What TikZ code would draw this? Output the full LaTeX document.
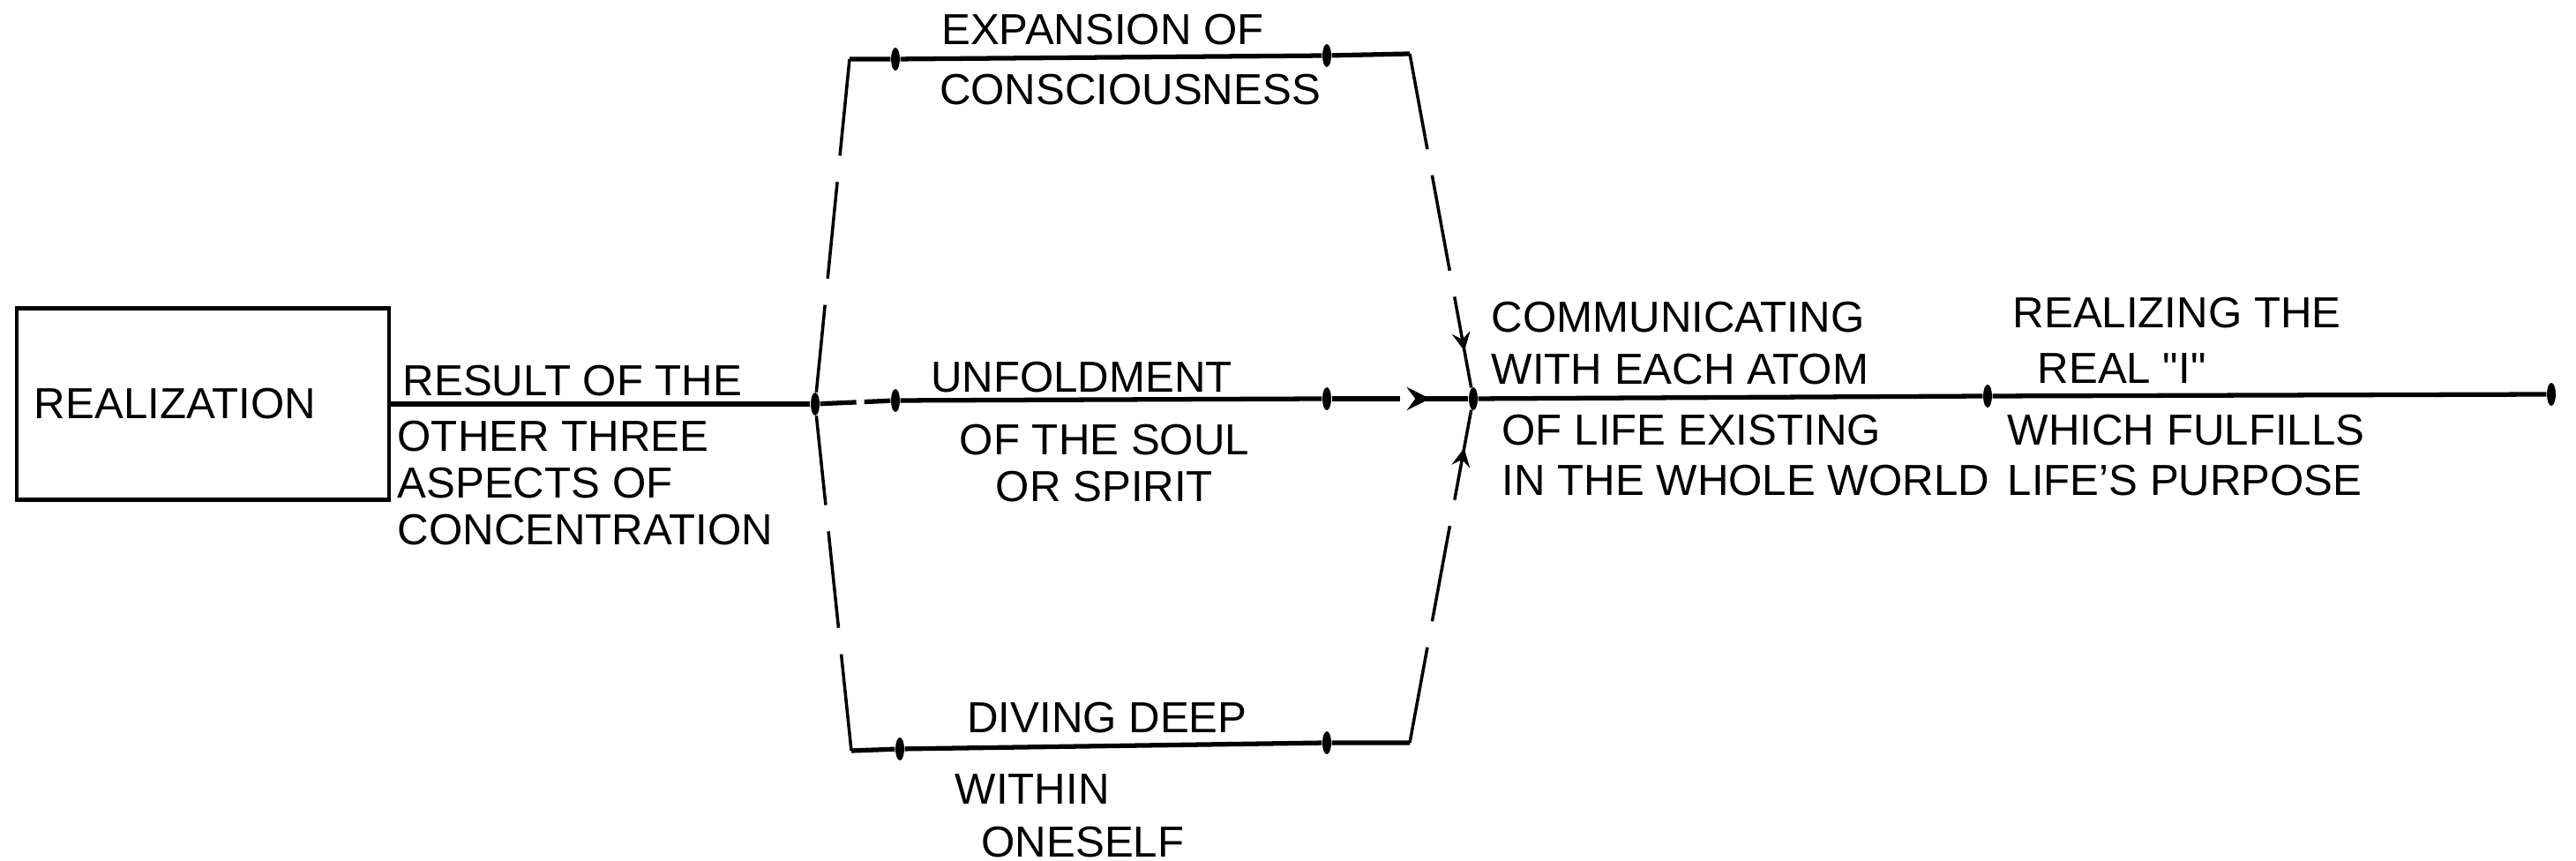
\documentclass[tikz,border=0pt]{standalone}
\usepackage{fontspec}
\setmainfont{Liberation Sans}
\usepackage{tikz}
\usetikzlibrary{shapes.geometric, arrows, positioning, decorations.markings}
\tikzstyle{concept} = [rectangle, minimum width=4.22cm, minimum height=2.17cm, text width=3.82cm, align=left, inner xsep=0.2cm, draw=black, line width=1.3pt, font=\fontsize{14}{16}\selectfont]
\tikzstyle{handtext} = [inner sep=0pt, font=\fontsize{14}{16}\selectfont]
\tikzstyle{knot} = [ellipse, fill=black, minimum width=0.1cm, minimum height=0.26cm, inner sep=0pt]
\tikzstyle{mainline} = [line width=1.5pt]
\tikzstyle{sideline} = [line width=1pt, dash pattern=on 1.1cm off 0.3cm]
\tikzset{flowmark/.style={postaction={decorate}, decoration={markings, mark=at position #1 with {\arrow[scale=1.3]{stealth}}}}}

\begin{document}
\begin{tikzpicture}
\useasboundingbox (0,0) rectangle (29.2,9.76);

\node (real) [concept] at (2.30,5.18) {REALIZATION};

% junctions and knots on the lines
\node (lj) [knot] at (9.24,5.18) {};
\node (m1) [knot] at (10.15,5.22) {};
\node (m2) [knot] at (15.04,5.24) {};
\node (rj) [knot] at (16.70,5.24) {};
\node (r1) [knot] at (22.53,5.27) {};
\node (r2) [knot] at (28.92,5.29) {};
\coordinate (tl) at (9.63,9.09);
\node (t1) [knot] at (10.15,9.09) {};
\node (t2) [knot] at (15.04,9.13) {};
\coordinate (tr) at (15.98,9.15);
\coordinate (bl) at (9.65,1.25);
\node (b1) [knot] at (10.20,1.27) {};
\node (b2) [knot] at (15.04,1.34) {};
\coordinate (br) at (15.98,1.34);

\draw [mainline] (real.east) -- (lj);
\draw [mainline, dash pattern=on 0.41cm off 0.09cm] (lj) -- (m1);
\draw [mainline] (m1) -- (m2);
\draw [mainline, dash pattern=on 0.77cm off 0.26cm, flowmark=0.72] (m2) -- (rj);
\draw [mainline] (rj) -- (r1) -- (r2);
\draw [mainline] (tl) -- (t1) -- (t2) -- (tr);
\draw [mainline] (bl) -- (b1) -- (b2) -- (br);
\draw [sideline] (tl) -- (lj);
\draw [sideline] (bl) -- (lj);
\draw [sideline, flowmark=0.89] (tr) -- (rj);
\draw [sideline, flowmark=0.885] (br) -- (rj);

% texts along the lines
\node (restop) [handtext, anchor=west] at (4.56,5.44) {RESULT OF THE};
\node (resbot) [handtext, anchor=west, align=left, font=\fontsize{14}{15}\selectfont] at (4.50,4.285) {OTHER THREE\\ASPECTS OF\\CONCENTRATION};
\node (exptop) [handtext] at (12.50,9.42) {EXPANSION OF};
\node (expbot) [handtext] at (12.81,8.74) {CONSCIOUSNESS};
\node (unftop) [handtext] at (12.26,5.48) {UNFOLDMENT};
\node (unfbot) [handtext, align=center, font=\fontsize{14}{15}\selectfont] at (12.52,4.51) {OF THE SOUL\\OR SPIRIT};
\node (divtop) [handtext] at (12.55,1.62) {DIVING DEEP};
\node (divbot) [handtext, anchor=west, align=left, font=\fontsize{14}{17}\selectfont] at (10.82,0.515) {WITHIN\\\hspace{0.3cm}ONESELF};
\node (comtop) [handtext, anchor=west, align=left, font=\fontsize{14}{17}\selectfont] at (16.90,5.87) {COMMUNICATING\\WITH EACH ATOM};
\node (combot) [handtext, anchor=west, align=left] at (17.02,4.60) {OF LIFE EXISTING\\IN THE WHOLE WORLD};
\node (reatop) [handtext, anchor=west, align=left, font=\fontsize{14}{18}\selectfont] at (22.81,5.905) {REALIZING THE\\\hspace{0.28cm}REAL \textquotedbl I\textquotedbl};
\node (reabot) [handtext, anchor=west, align=left] at (22.75,4.60) {WHICH FULFILLS\\LIFE'S PURPOSE};

\end{tikzpicture}
\end{document}
